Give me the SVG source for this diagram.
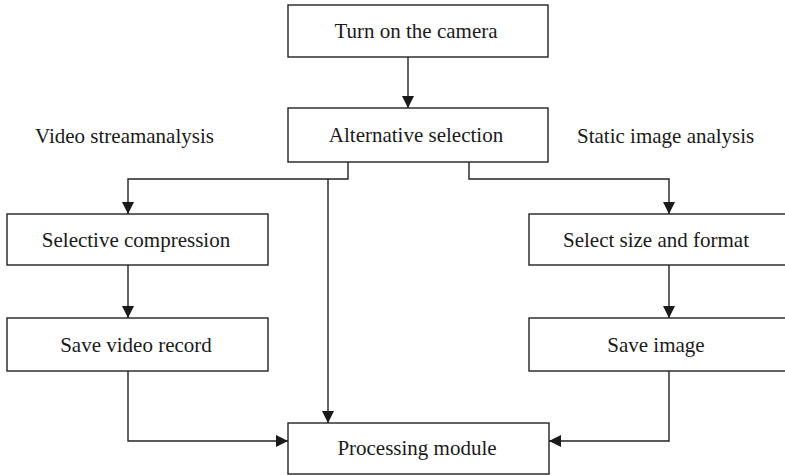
<svg xmlns="http://www.w3.org/2000/svg" width="785" height="475" viewBox="0 0 785 475">
  <style>
    .box { fill: #ffffff; stroke: #222222; stroke-width: 1.4; }
    .lbl { font-family: "Liberation Serif", "Times New Roman", serif; font-size: 21px; fill: #1a1a1a; text-anchor: middle; }
    .free { font-family: "Liberation Serif", "Times New Roman", serif; font-size: 21px; fill: #1a1a1a; }
    .wire { fill: none; stroke: #222222; stroke-width: 1.4; }
  </style>
  <defs>
    <marker id="arrow" markerUnits="userSpaceOnUse" markerWidth="13" markerHeight="13" refX="12" refY="6" orient="auto">
      <path d="M0,0 L12,6 L0,12 Z" fill="#1a1a1a"/>
    </marker>
  </defs>
  <rect width="785" height="475" fill="#ffffff"/>

  <g id="connectors">
    <path class="wire" d="M408,57 V108" marker-end="url(#arrow)"/>
    <path class="wire" d="M348,162 V179 H128 V214" marker-end="url(#arrow)"/>
    <path class="wire" d="M328,179 V423" marker-end="url(#arrow)"/>
    <path class="wire" d="M469,162 V179 H669 V214" marker-end="url(#arrow)"/>
    <path class="wire" d="M128,265 V318" marker-end="url(#arrow)"/>
    <path class="wire" d="M669,265 V318" marker-end="url(#arrow)"/>
    <path class="wire" d="M128,371 V441 H288" marker-end="url(#arrow)"/>
    <path class="wire" d="M669,371 V441 H549" marker-end="url(#arrow)"/>
  </g>

  <g id="turn-on-camera">
    <rect class="box" x="288" y="5" width="260" height="52"/>
    <text class="lbl" x="416" y="38">Turn on the camera</text>
  </g>
  <g id="alternative-selection">
    <rect class="box" x="288" y="108" width="260" height="54"/>
    <text class="lbl" x="416" y="142">Alternative selection</text>
  </g>
  <g id="label-video">
    <text class="free" x="35" y="143">Video streamanalysis</text>
  </g>
  <g id="label-static">
    <text class="free" x="577" y="143">Static image analysis</text>
  </g>
  <g id="selective-compression">
    <rect class="box" x="7" y="214" width="261" height="51"/>
    <text class="lbl" x="136" y="247">Selective compression</text>
  </g>
  <g id="save-video-record">
    <rect class="box" x="7" y="318" width="261" height="53"/>
    <text class="lbl" x="136" y="352">Save video record</text>
  </g>
  <g id="select-size-format">
    <rect class="box" x="529" y="214" width="258" height="51"/>
    <text class="lbl" x="656" y="247">Select size and format</text>
  </g>
  <g id="save-image">
    <rect class="box" x="529" y="318" width="258" height="53"/>
    <text class="lbl" x="656" y="352">Save image</text>
  </g>
  <g id="processing-module">
    <rect class="box" x="288" y="423" width="261" height="51"/>
    <text class="lbl" x="417" y="455">Processing module</text>
  </g>
</svg>
